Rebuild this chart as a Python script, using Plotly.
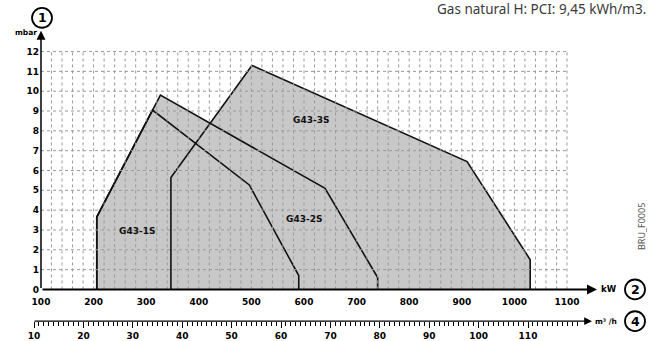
import plotly.graph_objects as go

W, H = 651, 341

# Burner working fields: output (kW) against combustion-head pressure (mbar)
kw_g43_1s = [206, 206, 312, 496, 590, 590]
mbar_g43_1s = [0, 3.65, 9.05, 5.27, 0.7, 0]
kw_g43_2s = [206, 206, 327, 640, 740, 740]
mbar_g43_2s = [0, 3.65, 9.8, 5.1, 0.6, 0]
kw_g43_3s = [347, 347, 501, 910, 1030, 1030]
mbar_g43_3s = [0, 5.65, 11.3, 6.45, 1.5, 0]

model_names = ["G43-1S", "G43-2S", "G43-3S"]
label_kw = [282, 600, 614]
label_mbar = [2.93, 3.57, 8.57]

kw_ticks = list(range(100, 1101, 100))
kw_grid = list(range(120, 1101, 20))
mbar_ticks = list(range(0, 13))
flow_major = list(range(10, 121, 5))
flow_minor = list(range(10, 121))
flow_labels = [str(v) if v % 10 == 0 and v <= 110 else "" for v in flow_major]

# pixel scale of the drawing
KW_X0, KW_PX = 41, 0.526      # 100 kW at x=41, px per kW
MB_Y0, MB_PX = 292, 20        # 0 mbar at y=292, px per mbar
FL_X0, FL_PX = 34, 4.94       # 10 m3/h at x=34, px per m3/h
FLOW_Y = 324                  # y of the flow scale line

x_range = [100 - KW_X0 / KW_PX, 100 + (W - KW_X0) / KW_PX]
y_range = [-(H - MB_Y0) / MB_PX, MB_Y0 / MB_PX]
x2_range = [10 - FL_X0 / FL_PX, 10 + (W - FL_X0) / FL_PX]


def px(x):
    return x / W


def py(y):
    return 1 - y / H


BOLD = "DejaVu Sans"
FILL = "#c8c8c8"

fields = [
    (kw_g43_1s, mbar_g43_1s),
    (kw_g43_2s, mbar_g43_2s),
    (kw_g43_3s, mbar_g43_3s),
]

fig = go.Figure()
for kw, mb in fields:
    fig.add_trace(go.Scatter(x=kw, y=mb, mode="lines", fill="toself",
                             fillcolor=FILL, line=dict(width=0),
                             hoverinfo="skip", showlegend=False))
for kw, mb in fields:
    fig.add_trace(go.Scatter(x=kw, y=mb, mode="lines",
                             line=dict(color="#111", width=1.6),
                             hoverinfo="skip", showlegend=False))

# invisible trace so the flow axis is drawn
fig.add_trace(go.Scatter(x=[flow_major[0]], y=[0], xaxis="x2", mode="markers",
                         marker=dict(opacity=0), hoverinfo="skip", showlegend=False))

shapes = []
grid_line = dict(color="#9a9a9a", width=1, dash="dot")
for v in kw_grid:
    shapes.append(dict(type="line", xref="x", yref="y", x0=v, x1=v, y0=0,
                       y1=mbar_ticks[-1], line=grid_line, layer="above"))
for v in mbar_ticks[1:]:
    shapes.append(dict(type="line", xref="x", yref="y", x0=kw_ticks[0],
                       x1=kw_ticks[-1], y0=v, y1=v, line=grid_line, layer="above"))

annotations = []
# axis arrows
annotations.append(dict(xref="x", yref="y", x=100, y=(MB_Y0 - 31) / MB_PX,
                        axref="x", ayref="y", ax=100, ay=0, text="",
                        showarrow=True, arrowhead=2, arrowsize=1.2,
                        arrowwidth=1.5, arrowcolor="#000", standoff=0))
annotations.append(dict(xref="x", yref="y", x=100 + (597 - KW_X0) / KW_PX, y=0,
                        axref="x", ayref="y", ax=100, ay=0, text="",
                        showarrow=True, arrowhead=2, arrowsize=1.0,
                        arrowwidth=2, arrowcolor="#000", standoff=0))
annotations.append(dict(xref="x2", yref="paper", x=10 + (592 - FL_X0) / FL_PX,
                        y=py(FLOW_Y), axref="x2", ayref="pixel",
                        ax=10 - 1 / FL_PX, ay=0, text="",
                        showarrow=True, arrowhead=2, arrowsize=1.3,
                        arrowwidth=1.2, arrowcolor="#000", standoff=0))


def label(x, y, text, size, xref="paper", yref="paper", family=BOLD,
          color="#000", bold=True, **kw):
    font = dict(family=family, size=size, color=color)
    if bold:
        font["weight"] = "bold"
    d = dict(xref=xref, yref=yref, x=x, y=y, text=text, showarrow=False,
             xanchor="center", yanchor="middle", font=font)
    d.update(kw)
    return d


# field labels
for name, kx, my in zip(model_names, label_kw, label_mbar):
    annotations.append(label(kx, my, name, 9, xref="x", yref="y", color="#111"))

# unit labels
annotations.append(label(px(26), py(33), "mbar", 7.5))
annotations.append(label(px(609), py(292), "kW", 8.5))
annotations.append(label(px(606), py(FLOW_Y), "m³ /h", 7.5))

# numbered badges
for num, cx, cy in [("1", 42, 18), ("2", 635, 292), ("4", 635, FLOW_Y)]:
    r = 10
    shapes.append(dict(type="circle", xref="paper", yref="paper",
                       x0=px(cx - r), x1=px(cx + r), y0=py(cy + r), y1=py(cy - r),
                       line=dict(color="#000", width=1.8), fillcolor="white",
                       layer="above"))
    annotations.append(label(px(cx), py(cy), num, 12.5))

annotations.append(label(px(648), py(9), "Gas natural H: PCI: 9,45 kWh/m3.", 13.5,
                         family="Noto Sans", color="#3a3a3a", bold=False,
                         xanchor="right"))
annotations.append(label(px(642), py(229), "BRU_F0005", 9, family="Noto Sans",
                         color="#555", bold=False, textangle=-90))

tick_font = dict(family=BOLD, size=9, color="#000", weight="bold")

fig.update_layout(
    width=W, height=H,
    margin=dict(l=0, r=0, t=0, b=0),
    paper_bgcolor="white", plot_bgcolor="white",
    showlegend=False,
    xaxis=dict(domain=[0, 1], range=x_range, anchor="free", position=py(MB_Y0),
               tickvals=kw_ticks, ticktext=[str(v) for v in kw_ticks],
               ticks="", ticklabelstandoff=6, showgrid=False, zeroline=False,
               showline=False, tickfont=tick_font, fixedrange=True),
    xaxis2=dict(domain=[0, 1], range=x2_range, overlaying="x", anchor="free",
                position=py(FLOW_Y), side="bottom",
                tickvals=flow_major, ticktext=flow_labels,
                ticks="outside", ticklen=6, tickwidth=1, tickcolor="#000",
                minor=dict(tickvals=flow_minor, ticks="outside", ticklen=4,
                           tickwidth=1, tickcolor="#000"),
                showgrid=False, zeroline=False, showline=False,
                tickfont=tick_font, fixedrange=True),
    yaxis=dict(domain=[0, 1], range=y_range, anchor="free", position=px(KW_X0),
               tickvals=mbar_ticks, ticktext=[str(v) for v in mbar_ticks],
               ticks="", ticklabelstandoff=2, showgrid=False, zeroline=False,
               showline=False, tickfont=tick_font, fixedrange=True),
    shapes=shapes,
    annotations=annotations,
)

fig.write_html("out.html")
